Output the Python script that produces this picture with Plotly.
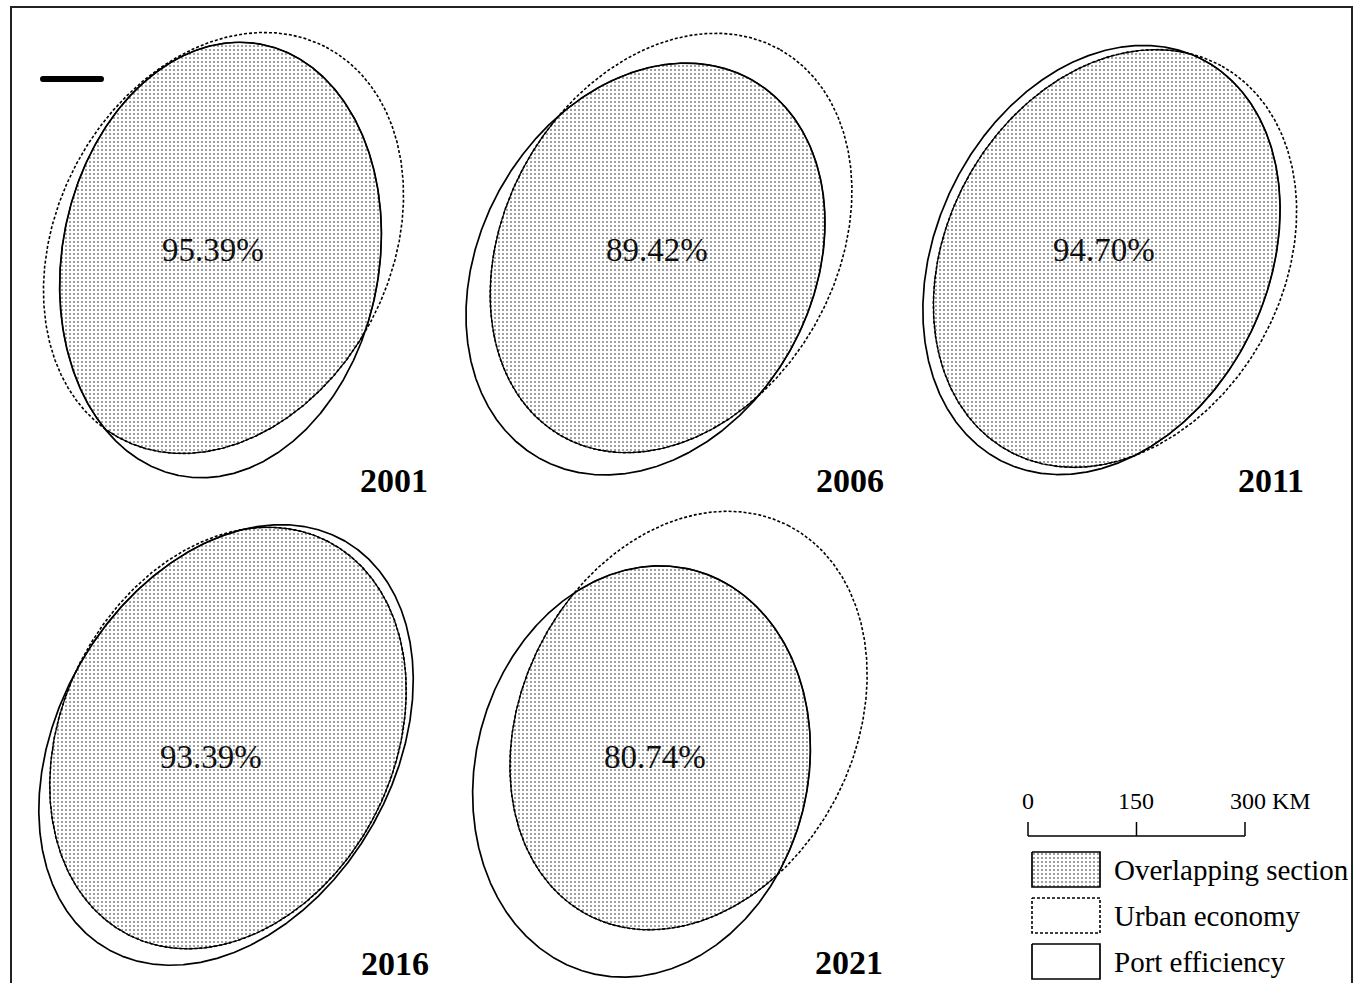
import numpy as np
import plotly.graph_objects as go

# ---------------------------------------------------------------------------
# Data: standard deviational ellipses (km, panel-local map frame, y = north)
# rotation = azimuth of the major axis, degrees clockwise from north
# ---------------------------------------------------------------------------
years = ["2001", "2006", "2011", "2016", "2021"]
overlap_pct = ["95.39%", "89.42%", "94.70%", "93.39%", "80.74%"]

urban_cx = [309.0, 312.5, 311.1, 315.2, 336.7]
urban_cy = [342.9, 342.9, 321.5, 338.7, 362.9]
urban_major = [305.6, 306.9, 304.2, 305.0, 302.8]
urban_minor = [230.9, 229.0, 232.3, 229.5, 230.3]
urban_rot = [27.7, 29.5, 29.1, 26.6, 27.0]

port_cx = [304.9, 277.2, 292.4, 312.5, 271.7]
port_cy = [319.4, 306.9, 319.4, 329.1, 292.4]
port_major = [303.5, 300.0, 310.4, 326.3, 287.6]
port_minor = [219.1, 229.5, 229.5, 230.9, 229.5]
port_rot = [10.6, 29.3, 25.9, 30.5, 14.4]

scale_ticks_km = [0, 150, 300]
scale_unit = "KM"
legend_labels = ["Overlapping section", "Urban economy", "Port efficiency"]

# ---------------------------------------------------------------------------
# Layout constants (pixels)
# ---------------------------------------------------------------------------
W, H = 1366, 983
PX_PER_KM = 0.7233
PANEL_W, PANEL_H = 445, 491
panel_origin = [(0, 0), (445, 0), (890, 0), (0, 492), (445, 492)]
pct_pos = [(213, 250), (657, 250), (1104, 250), (211, 757), (655, 757)]
year_pos = [(430, 480), (886, 480), (1306, 480), (431, 963), (885, 962)]

SERIF = "Liberation Serif, Times New Roman, serif"
DOT_FILL = dict(shape=".", size=4, solidity=0.11, fgcolor="#111111",
                bgcolor="white", fillmode="replace")
URBAN_DASH = "3px,2px"


def ellipse_xy(cx, cy, a, b, rot_deg, n=1440):
    t = np.linspace(0, 2 * np.pi, n, endpoint=False)
    th = np.radians(rot_deg)
    ux, uy = np.sin(th), np.cos(th)      # major-axis direction
    vx, vy = np.cos(th), -np.sin(th)     # minor-axis direction
    x = cx + a * np.cos(t) * ux + b * np.sin(t) * vx
    y = cy + a * np.cos(t) * uy + b * np.sin(t) * vy
    return x, y


def inside(x, y, cx, cy, a, b, rot_deg):
    th = np.radians(rot_deg)
    dx, dy = x - cx, y - cy
    p = dx * np.sin(th) + dy * np.cos(th)
    q = dx * np.cos(th) - dy * np.sin(th)
    return (p / a) ** 2 + (q / b) ** 2 <= 1.0


def overlap_polygon(e1, e2):
    # intersection of two convex ellipses: boundary points of each lying in the other
    x1, y1 = ellipse_xy(*e1)
    x2, y2 = ellipse_xy(*e2)
    m1 = inside(x1, y1, *e2)
    m2 = inside(x2, y2, *e1)
    xs = np.concatenate([x1[m1], x2[m2]])
    ys = np.concatenate([y1[m1], y2[m2]])
    ang = np.arctan2(ys - ys.mean(), xs - xs.mean())
    order = np.argsort(ang)
    xs, ys = xs[order], ys[order]
    return np.append(xs, xs[0]), np.append(ys, ys[0])


fig = go.Figure()
layout = {}

for i, yr in enumerate(years):
    k = i + 1
    xa, ya = f"x{k}", f"y{k}"
    left, top = panel_origin[i]
    layout[f"xaxis{k}"] = dict(
        domain=[left / W, (left + PANEL_W) / W],
        range=[0, PANEL_W / PX_PER_KM], visible=False, fixedrange=True)
    layout[f"yaxis{k}"] = dict(
        domain=[1 - (top + PANEL_H) / H, 1 - top / H],
        range=[0, PANEL_H / PX_PER_KM], visible=False, fixedrange=True)

    ue = (urban_cx[i], urban_cy[i], urban_major[i], urban_minor[i], urban_rot[i])
    pe = (port_cx[i], port_cy[i], port_major[i], port_minor[i], port_rot[i])

    ox, oy = overlap_polygon(ue, pe)
    fig.add_trace(go.Scatter(
        x=ox, y=oy, xaxis=xa, yaxis=ya, mode="lines", fill="toself",
        fillcolor="white", fillpattern=DOT_FILL,
        line=dict(color="black", width=1.2), hoverinfo="skip", showlegend=False))

    ux_, uy_ = ellipse_xy(*ue)
    fig.add_trace(go.Scatter(
        x=np.append(ux_, ux_[0]), y=np.append(uy_, uy_[0]), xaxis=xa, yaxis=ya,
        mode="lines", line=dict(color="black", width=1.6, dash=URBAN_DASH),
        hoverinfo="skip", showlegend=False))

    px_, py_ = ellipse_xy(*pe)
    fig.add_trace(go.Scatter(
        x=np.append(px_, px_[0]), y=np.append(py_, py_[0]), xaxis=xa, yaxis=ya,
        mode="lines", line=dict(color="black", width=1.7),
        hoverinfo="skip", showlegend=False))

# overlay axis in pixel units for frame, scale bar and legend
layout["xaxis6"] = dict(domain=[0, 1], range=[0, W], visible=False, fixedrange=True)
layout["yaxis6"] = dict(domain=[0, 1], range=[H, 0], visible=False, fixedrange=True)

annotations = []
for i in range(len(years)):
    annotations.append(dict(
        x=pct_pos[i][0], y=pct_pos[i][1], xref="x6", yref="y6",
        text=overlap_pct[i], showarrow=False, xanchor="center", yanchor="middle",
        font=dict(family=SERIF, size=33, color="#111111")))
    annotations.append(dict(
        x=year_pos[i][0], y=year_pos[i][1], xref="x6", yref="y6",
        text=f"<b>{years[i]}</b>", showarrow=False, xanchor="right", yanchor="middle",
        font=dict(family=SERIF, size=34, color="black")))

shapes = []
# outer frame
shapes.append(dict(type="rect", xref="x6", yref="y6", x0=11, y0=7, x1=1352, y1=995,
                   line=dict(color="#222222", width=2), layer="above"))

# short heavy bar at the top-left corner
fig.add_trace(go.Scatter(x=[43, 101], y=[79, 79], xaxis="x6", yaxis="y6", mode="lines",
                         line=dict(color="black", width=6), hoverinfo="skip",
                         showlegend=False))
fig.add_trace(go.Scatter(x=[43, 101], y=[79, 79], xaxis="x6", yaxis="y6", mode="markers",
                         marker=dict(color="black", size=6, line=dict(width=0)),
                         hoverinfo="skip", showlegend=False))

# scale bar
sb_x0, sb_y, sb_tick = 1028, 836, 14
for v in scale_ticks_km:
    xx = sb_x0 + v * PX_PER_KM
    shapes.append(dict(type="line", xref="x6", yref="y6", x0=xx, x1=xx,
                       y0=sb_y - sb_tick, y1=sb_y, line=dict(color="black", width=1.5)))
shapes.append(dict(type="line", xref="x6", yref="y6", x0=sb_x0,
                   x1=sb_x0 + scale_ticks_km[-1] * PX_PER_KM, y0=sb_y, y1=sb_y,
                   line=dict(color="black", width=1.5)))
for j, v in enumerate(scale_ticks_km):
    xx = sb_x0 + v * PX_PER_KM
    label = f"{v}" if j < len(scale_ticks_km) - 1 else f"{v} {scale_unit}"
    anchor = "center" if j < len(scale_ticks_km) - 1 else "left"
    annotations.append(dict(
        x=xx if anchor == "center" else xx - 17, y=801, xref="x6", yref="y6",
        text=label, showarrow=False, xanchor=anchor, yanchor="middle",
        font=dict(family=SERIF, size=24, color="black")))

# legend
box_x0, box_x1 = 1032, 1100
box_tops = [852, 898, 944]
box_h = 35
for j, lab in enumerate(legend_labels):
    y0, y1 = box_tops[j], box_tops[j] + box_h
    bx = [box_x0, box_x1, box_x1, box_x0, box_x0]
    by = [y0, y0, y1, y1, y0]
    if j == 0:
        fig.add_trace(go.Scatter(x=bx, y=by, xaxis="x6", yaxis="y6", mode="lines",
                                 fill="toself", fillcolor="white", fillpattern=DOT_FILL,
                                 line=dict(color="black", width=1.7),
                                 hoverinfo="skip", showlegend=False))
    elif j == 1:
        fig.add_trace(go.Scatter(x=bx, y=by, xaxis="x6", yaxis="y6", mode="lines",
                                 line=dict(color="black", width=1.6, dash=URBAN_DASH),
                                 hoverinfo="skip", showlegend=False))
    else:
        fig.add_trace(go.Scatter(x=bx, y=by, xaxis="x6", yaxis="y6", mode="lines",
                                 line=dict(color="black", width=1.7),
                                 hoverinfo="skip", showlegend=False))
    annotations.append(dict(
        x=1112, y=(y0 + y1) / 2, xref="x6", yref="y6", text=lab, showarrow=False,
        xanchor="left", yanchor="middle",
        font=dict(family=SERIF, size=29, color="black")))

fig.update_layout(
    width=W, height=H, margin=dict(l=0, r=0, t=0, b=0),
    paper_bgcolor="white", plot_bgcolor="rgba(0,0,0,0)",
    showlegend=False, annotations=annotations, shapes=shapes, **layout)

fig.write_html("out.html", config={"displayModeBar": False})
